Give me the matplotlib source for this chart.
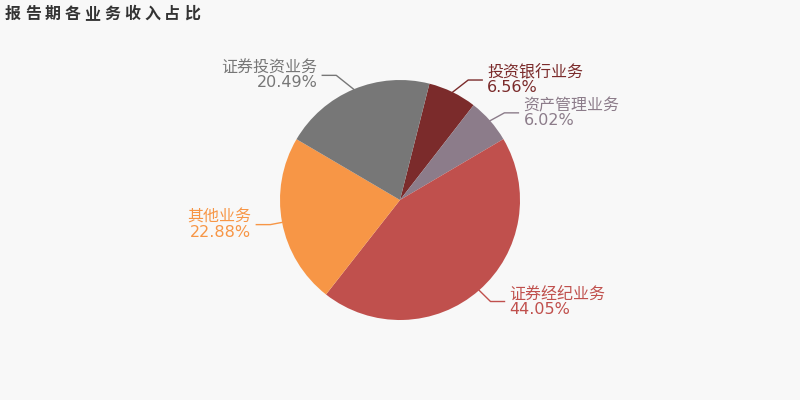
import matplotlib.pyplot as plt
import numpy as np

plt.rcParams['font.family'] = ['DejaVu Sans', 'Noto Sans CJK SC']

# 数据
nombres = ['投资银行业务', '资产管理业务', '证券经纪业务', '其他业务', '证券投资业务']
valores = [6.56, 6.02, 44.05, 22.88, 20.49]
colores = ['#7b2b2b', '#8c7c8a', '#c0504d', '#f79646', '#777777']
titulo = '报告期各业务收入占比'

# ajustes de las lineas guia (grados, radio del codo)
desvio = [-3.6, -1.5, 0.5, 0.0, 4.4]
radio_codo = [138, 136, 136, 132, 140]

fig = plt.figure(figsize=(8, 4), dpi=100, facecolor='#f8f8f8')
ax = fig.add_axes([0, 0, 1, 1])
ax.set_facecolor('#f8f8f8')

cx, cy, r = 400, 200, 120
inicio = 75.8
wedges, _ = ax.pie(valores, colors=colores, startangle=inicio, counterclock=False,
                   center=(cx, cy), radius=r, frame=True,
                   wedgeprops={'linewidth': 0})
ax.set_xlim(0, 800)
ax.set_ylim(0, 400)
ax.set_aspect('equal')
ax.axis('off')

# etiquetas con lineas guia
for w, nom, val, col, d, rc in zip(wedges, nombres, valores, colores, desvio, radio_codo):
    ang = np.deg2rad((w.theta1 + w.theta2) / 2)
    x0, y0 = cx + r * np.cos(ang), cy + r * np.sin(ang)
    ang2 = ang + np.deg2rad(d)
    x1, y1 = cx + rc * np.cos(ang2), cy + rc * np.sin(ang2)
    lado = 1 if np.cos(ang) >= 0 else -1
    x2 = x1 + lado * 14
    ax.plot([x0, x1, x2], [y0, y1, y1], color=col, lw=1)
    ax.text(x2 + lado * 5, y1, f'{nom}\n{val:.2f}%', color=col, fontsize=11.5,
            ha='left' if lado > 0 else 'right', va='center', linespacing=1.0,
            multialignment='left' if lado > 0 else 'right')

# titulo con espaciado entre letras
for i, ch in enumerate(titulo):
    fig.text((5 + i * 19.9) / 800, 1 - 14 / 400, ch, fontsize=11.5, fontweight='bold',
             color='#333333', family=['Noto Sans CJK SC'], ha='left', va='center')

fig.savefig('out.png', dpi=100, facecolor=fig.get_facecolor())
